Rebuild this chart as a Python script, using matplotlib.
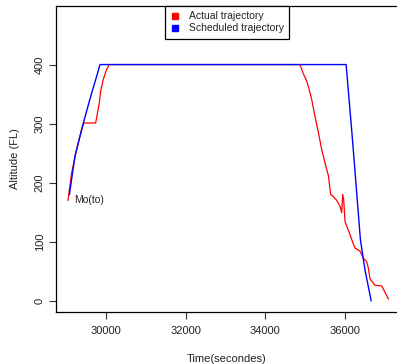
"""
Altitude profile: actual vs scheduled trajectory.
Output: out.png
"""

import matplotlib
matplotlib.use("Agg")
import matplotlib.pyplot as plt
from matplotlib.lines import Line2D

plt.rcParams["font.family"] = ["Liberation Sans", "DejaVu Sans"]

# actual trajectory (time in s, altitude in FL)
actual_t = [29044, 29135, 29262, 29387, 29446, 29600, 29740, 29832, 29866, 29932,
            30017, 30083, 31000, 33000, 34880, 34960, 35050, 35110, 35174, 35258,
            35342, 35426, 35552, 35594, 35652, 35720, 35803, 35887, 35929, 35954,
            35979, 36013, 36080, 36138, 36200, 36264, 36390, 36474, 36557, 36600,
            36641, 36767, 36935, 37103]
actual_alt = [170, 216, 256, 290, 301, 301, 301, 335, 355, 375,
              392, 400, 400, 400, 400, 385, 372, 358, 341, 312,
              285, 256, 222, 212, 180, 176, 170, 160, 149, 180,
              171, 134, 122, 112, 100, 89, 84, 72, 66, 55,
              37, 26, 25, 3]

# scheduled trajectory
sched_t = [29080, 29220, 29430, 29640, 29765, 29849, 32000, 34000, 36040, 36200,
           36400, 36520, 36670]
sched_alt = [180, 245, 301, 352, 380, 400, 400, 400, 400, 273,
             103, 50, 0]

x_ticks = [30000, 32000, 34000, 36000]
y_ticks = [0, 100, 200, 300, 400]


def main() -> None:
    fig = plt.figure(figsize=(3.97, 3.64), dpi=100)
    ax = fig.add_axes([0.141, 0.1429, 0.859, 0.8406])

    ax.plot(actual_t, actual_alt, color="red", lw=0.9)
    ax.plot(sched_t, sched_alt, color="blue", lw=1.0)
    ax.text(29195, 170, "Mo(to)", fontsize=7.5, ha="left", va="center", color="#222222")

    ax.set_xlim(28742, 37320)
    ax.set_ylim(-19.2, 499.2)
    ax.set_xticks(x_ticks)
    ax.set_yticks(y_ticks)
    ax.tick_params(direction="out", length=5, width=0.8, labelsize=8, color="#333333",
                   labelcolor="#222222")
    ax.tick_params(axis="x", pad=5)
    ax.tick_params(axis="y", pad=3)
    for lab in ax.get_yticklabels():
        lab.set_rotation(90)
        lab.set_va("center")

    ax.spines["right"].set_visible(False)
    for s in ["left", "top", "bottom"]:
        ax.spines[s].set_linewidth(0.9)
        ax.spines[s].set_color("black")

    ax.set_xlabel("Time(secondes)", fontsize=8, color="#222222")
    ax.set_ylabel("Altitude (FL)", fontsize=8, color="#222222")
    ax.xaxis.set_label_coords(0.5, -0.138)
    ax.yaxis.set_label_coords(-0.105, 0.5)

    handles = [
        Line2D([], [], ls="none", marker="s", ms=4, color="red"),
        Line2D([], [], ls="none", marker="s", ms=4, color="blue"),
    ]
    leg = ax.legend(handles, ["Actual trajectory", "Scheduled trajectory"],
                    loc="upper left", bbox_to_anchor=(0.3196, 1.0), fontsize=7.5,
                    frameon=True, fancybox=False, framealpha=1, edgecolor="black",
                    borderpad=0.5, handlelength=1.0, handletextpad=0.8,
                    labelspacing=0.2, borderaxespad=0, labelcolor="#222222")
    leg.get_frame().set_linewidth(0.9)

    fig.savefig("out.png", dpi=100)
    plt.close(fig)


if __name__ == "__main__":
    main()
